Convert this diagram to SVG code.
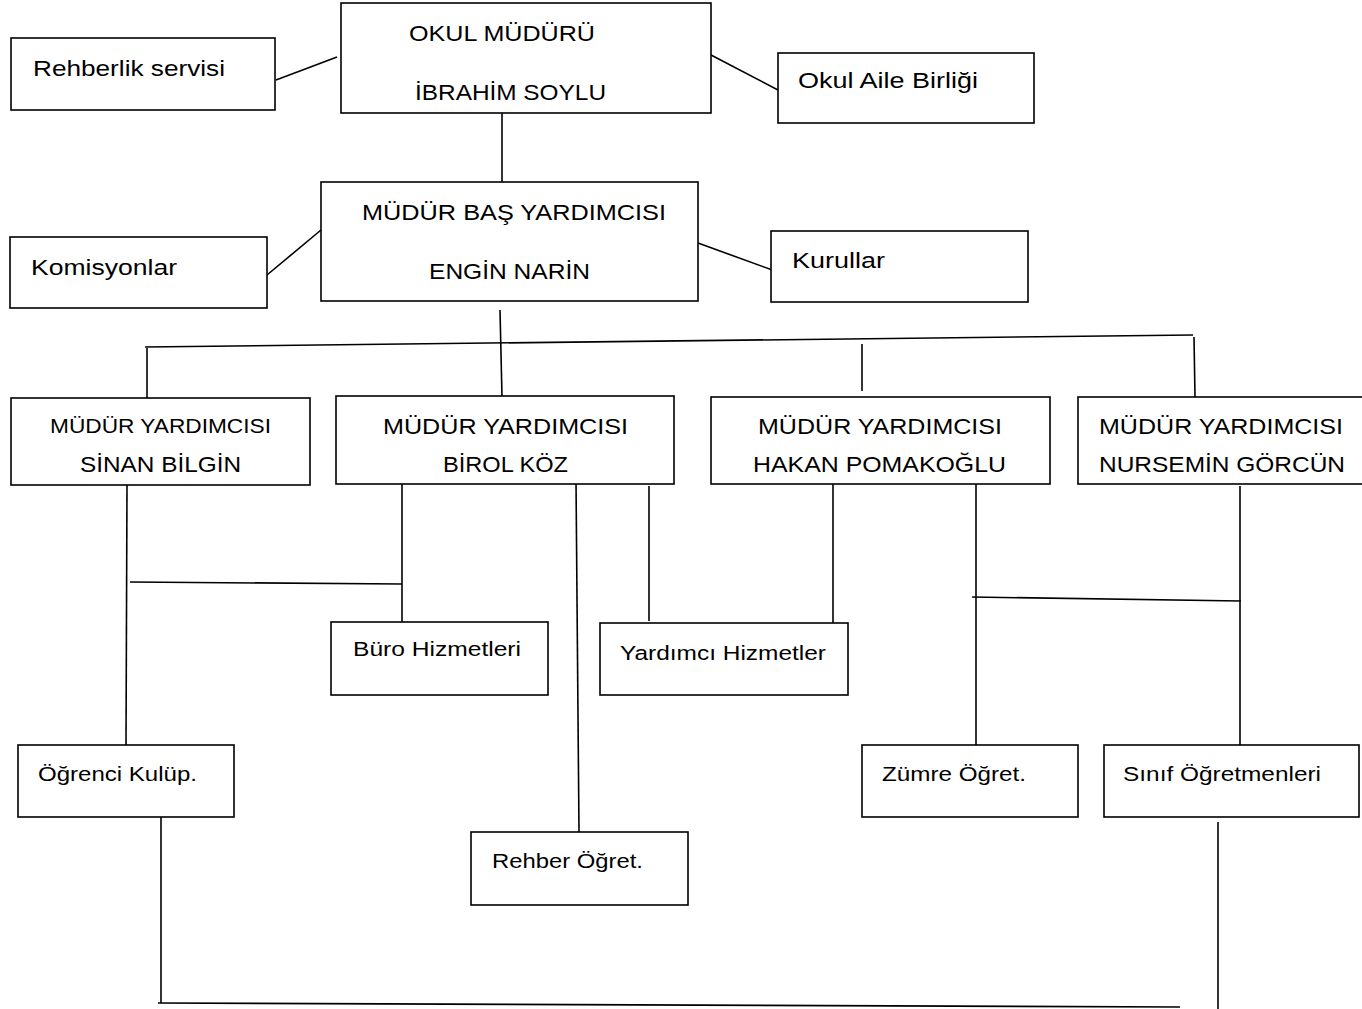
<svg xmlns="http://www.w3.org/2000/svg" width="1362" height="1009" viewBox="0 0 1362 1009">
<style>
.b{fill:#fff;stroke:#000;stroke-width:1.6}
.l{stroke:#000;stroke-width:1.6;fill:none}
text{font-family:"Liberation Sans",Arial,sans-serif;fill:#000}
.t{font-size:22px}
.s{font-size:20.5px}
</style>
<rect width="1362" height="1009" fill="#fff"/>
<g id="connectors">
<line class="l" x1="276" y1="80" x2="337" y2="57"/>
<line class="l" x1="711" y1="55" x2="778" y2="90"/>
<line class="l" x1="502" y1="113" x2="502" y2="182"/>
<line class="l" x1="267" y1="275" x2="321" y2="230"/>
<line class="l" x1="698" y1="243" x2="775" y2="271"/>
<line class="l" x1="500" y1="310" x2="502" y2="397"/>
<line class="l" x1="145" y1="347" x2="1193" y2="335"/>
<line class="l" x1="147" y1="348" x2="147" y2="398"/>
<line class="l" x1="862" y1="344" x2="862" y2="391"/>
<line class="l" x1="1194" y1="337" x2="1195" y2="397"/>
<line class="l" x1="127" y1="484" x2="126" y2="745"/>
<line class="l" x1="130" y1="582" x2="402" y2="584"/>
<line class="l" x1="402" y1="480" x2="402" y2="622"/>
<line class="l" x1="576" y1="480" x2="579" y2="832"/>
<line class="l" x1="649" y1="486" x2="649" y2="621"/>
<line class="l" x1="833" y1="478" x2="833" y2="623"/>
<line class="l" x1="976" y1="484" x2="976" y2="745"/>
<line class="l" x1="972" y1="597" x2="1241" y2="601"/>
<line class="l" x1="1240" y1="486" x2="1240" y2="745"/>
<line class="l" x1="161" y1="817" x2="161" y2="1003"/>
<line class="l" x1="158" y1="1003" x2="1180" y2="1007"/>
<line class="l" x1="1218" y1="822" x2="1218" y2="1009"/>
</g>
<g id="rehberlik"><rect class="b" x="11" y="38" width="264" height="72"/><text class="t" x="33" y="76" textLength="192" lengthAdjust="spacingAndGlyphs">Rehberlik servisi</text></g>
<g id="mudur"><rect class="b" x="341" y="3" width="370" height="110"/><text class="t" x="409" y="41" textLength="186" lengthAdjust="spacingAndGlyphs">OKUL MÜDÜRÜ</text><text class="t" x="415" y="100" textLength="191" lengthAdjust="spacingAndGlyphs">İBRAHİM SOYLU</text></g>
<g id="aile"><rect class="b" x="778" y="53" width="256" height="70"/><text class="t" x="798" y="88" textLength="180" lengthAdjust="spacingAndGlyphs">Okul Aile Birliği</text></g>
<g id="basyard"><rect class="b" x="321" y="182" width="377" height="119"/><text class="t" x="362" y="220" textLength="304" lengthAdjust="spacingAndGlyphs">MÜDÜR BAŞ YARDIMCISI</text><text class="t" x="429" y="279" textLength="161" lengthAdjust="spacingAndGlyphs">ENGİN NARİN</text></g>
<g id="komisyon"><rect class="b" x="10" y="237" width="257" height="71"/><text class="t" x="31" y="275" textLength="146" lengthAdjust="spacingAndGlyphs">Komisyonlar</text></g>
<g id="kurullar"><rect class="b" x="771" y="231" width="257" height="71"/><text class="t" x="792" y="268" textLength="93" lengthAdjust="spacingAndGlyphs">Kurullar</text></g>
<g id="sinan"><rect class="b" x="11" y="398" width="299" height="87"/><text class="s" x="50" y="433" textLength="221" lengthAdjust="spacingAndGlyphs">MÜDÜR YARDIMCISI</text><text class="t" x="80" y="472" textLength="161" lengthAdjust="spacingAndGlyphs">SİNAN BİLGİN</text></g>
<g id="birol"><rect class="b" x="336" y="396" width="338" height="88"/><text class="t" x="383" y="434" textLength="245" lengthAdjust="spacingAndGlyphs">MÜDÜR YARDIMCISI</text><text class="t" x="443" y="472" textLength="125" lengthAdjust="spacingAndGlyphs">BİROL KÖZ</text></g>
<g id="hakan"><rect class="b" x="711" y="397" width="339" height="87"/><text class="t" x="758" y="434" textLength="244" lengthAdjust="spacingAndGlyphs">MÜDÜR YARDIMCISI</text><text class="t" x="753" y="472" textLength="253" lengthAdjust="spacingAndGlyphs">HAKAN POMAKOĞLU</text></g>
<g id="nursemin"><rect class="b" x="1078" y="397" width="290" height="87"/><text class="t" x="1099" y="434" textLength="244" lengthAdjust="spacingAndGlyphs">MÜDÜR YARDIMCISI</text><text class="t" x="1099" y="472" textLength="246" lengthAdjust="spacingAndGlyphs">NURSEMİN GÖRCÜN</text></g>
<g id="buro"><rect class="b" x="331" y="622" width="217" height="73"/><text class="s" x="353" y="656" textLength="168" lengthAdjust="spacingAndGlyphs">Büro Hizmetleri</text></g>
<g id="yardimci"><rect class="b" x="600" y="623" width="248" height="72"/><text class="s" x="620" y="660" textLength="206" lengthAdjust="spacingAndGlyphs">Yardımcı Hizmetler</text></g>
<g id="ogrenci"><rect class="b" x="18" y="745" width="216" height="72"/><text class="s" x="38" y="781" textLength="159" lengthAdjust="spacingAndGlyphs">Öğrenci Kulüp.</text></g>
<g id="rehberogret"><rect class="b" x="471" y="832" width="217" height="73"/><text class="s" x="492" y="868" textLength="151" lengthAdjust="spacingAndGlyphs">Rehber Öğret.</text></g>
<g id="zumre"><rect class="b" x="862" y="745" width="216" height="72"/><text class="s" x="882" y="781" textLength="144" lengthAdjust="spacingAndGlyphs">Zümre Öğret.</text></g>
<g id="sinif"><rect class="b" x="1104" y="745" width="255" height="72"/><text class="s" x="1123" y="781" textLength="198" lengthAdjust="spacingAndGlyphs">Sınıf Öğretmenleri</text></g>
</svg>
